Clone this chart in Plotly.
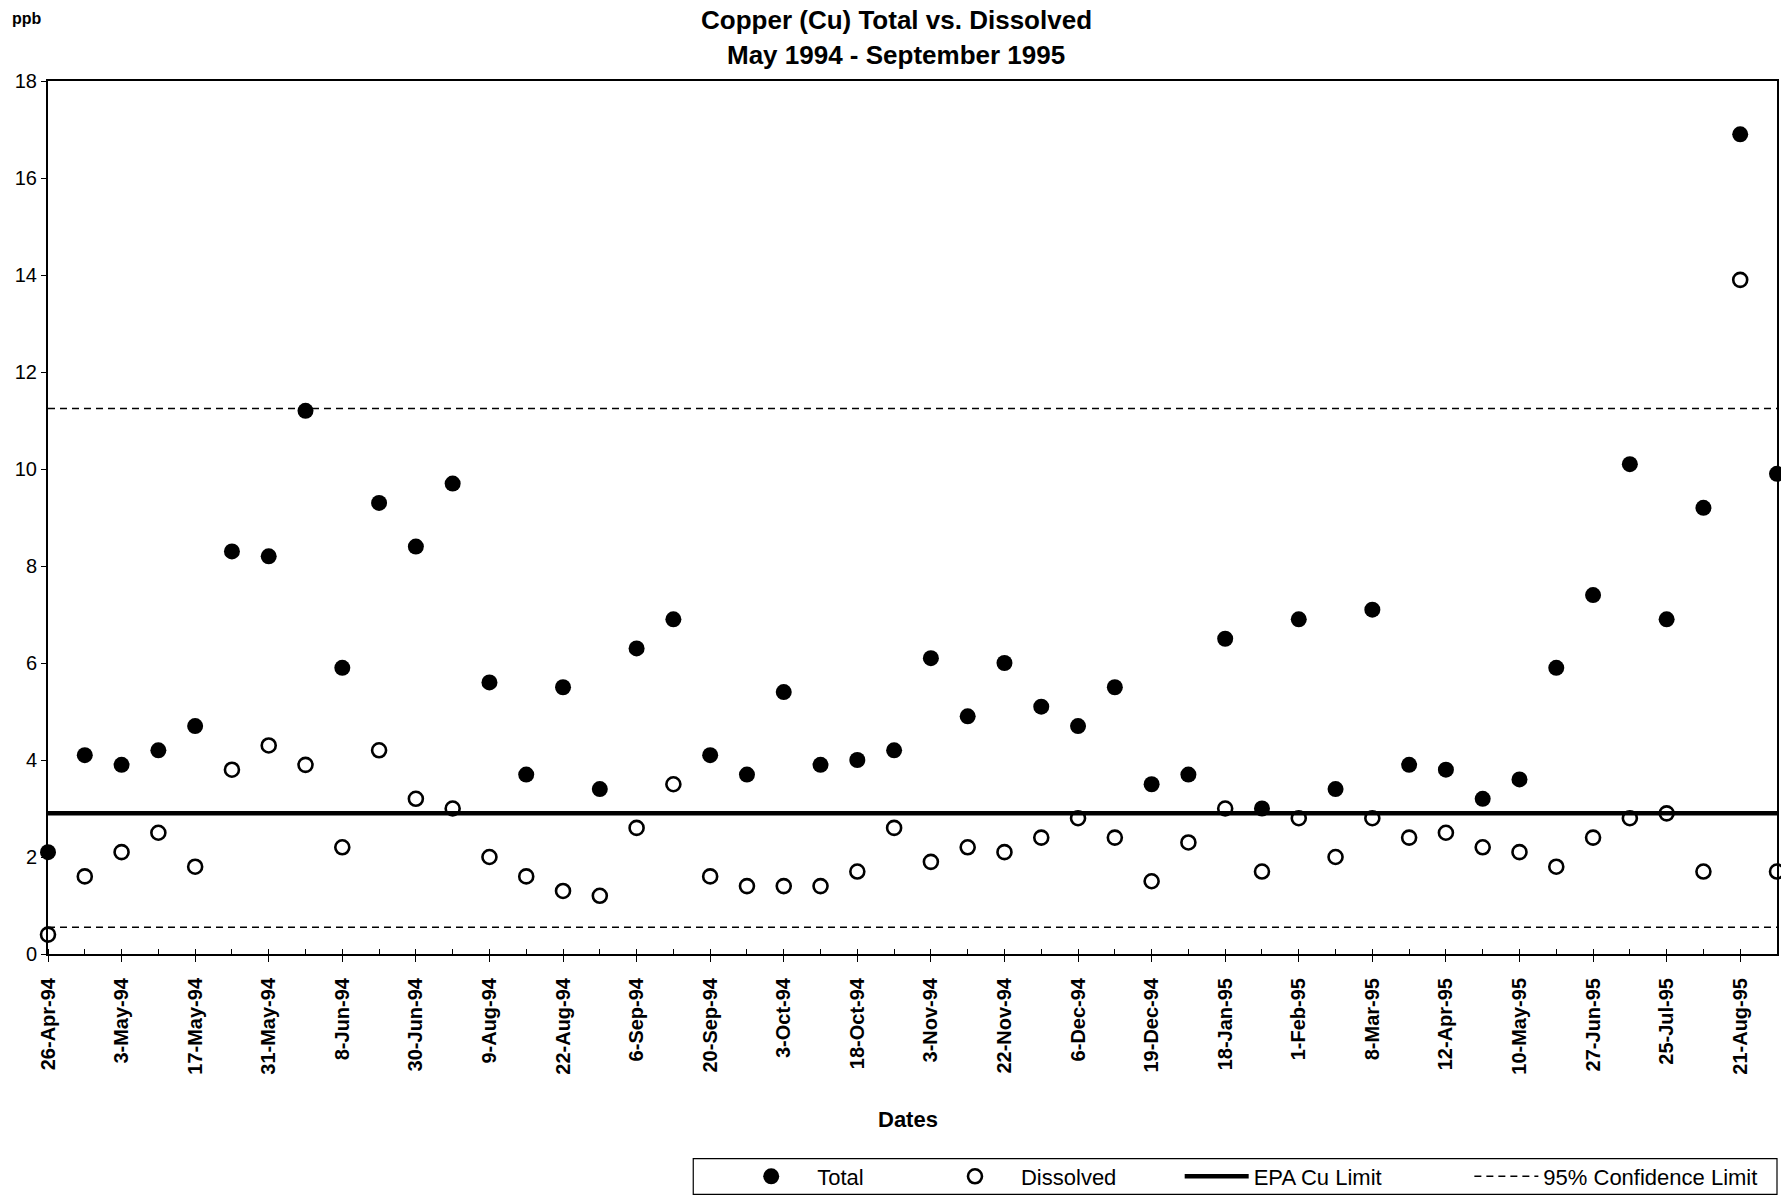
import plotly.graph_objects as go

# ---- data ----
date_labels = ["26-Apr-94", "3-May-94", "17-May-94", "31-May-94", "8-Jun-94", "30-Jun-94",
               "9-Aug-94", "22-Aug-94", "6-Sep-94", "20-Sep-94", "3-Oct-94", "18-Oct-94",
               "3-Nov-94", "22-Nov-94", "6-Dec-94", "19-Dec-94", "18-Jan-95", "1-Feb-95",
               "8-Mar-95", "12-Apr-95", "10-May-95", "27-Jun-95", "25-Jul-95", "21-Aug-95"]

total = [2.1, 4.1, 3.9, 4.2, 4.7, 8.3, 8.2, 11.2, 5.9, 9.3, 8.4, 9.7, 5.6, 3.7, 5.5, 3.4,
         6.3, 6.9, 4.1, 3.7, 5.4, 3.9, 4.0, 4.2, 6.1, 4.9, 6.0, 5.1, 4.7, 5.5, 3.5, 3.7,
         6.5, 3.0, 6.9, 3.4, 7.1, 3.9, 3.8, 3.2, 3.6, 5.9, 7.4, 10.1, 6.9, 9.2, 16.9, 9.9]

dissolved = [0.4, 1.6, 2.1, 2.5, 1.8, 3.8, 4.3, 3.9, 2.2, 4.2, 3.2, 3.0, 2.0, 1.6, 1.3, 1.2,
             2.6, 3.5, 1.6, 1.4, 1.4, 1.4, 1.7, 2.6, 1.9, 2.2, 2.1, 2.4, 2.8, 2.4, 1.5, 2.3,
             3.0, 1.7, 2.8, 2.0, 2.8, 2.4, 2.5, 2.2, 2.1, 1.8, 2.4, 2.8, 2.9, 1.7, 13.9, 1.7]

epa_limit = 2.9
ci_upper = 11.25
ci_lower = 0.55

# ---- derived ----
n = len(total)
idx = list(range(n))
ticktext = [date_labels[i // 2] if i % 2 == 0 else "" for i in idx]
ends = [0, n - 1]

FONT = "Liberation Sans, Arial, sans-serif"
DASH = "7px,5px"

fig = go.Figure()

fig.add_trace(go.Scatter(
    x=idx, y=total, mode="markers", name="Total", legend="legend",
    marker=dict(symbol="circle", size=16, color="black", line=dict(width=0)),
    cliponaxis=False))

fig.add_trace(go.Scatter(
    x=idx, y=dissolved, mode="markers", name="Dissolved", legend="legend2",
    marker=dict(symbol="circle-open", size=14, color="black", line=dict(width=2.6, color="black")),
    cliponaxis=False))

fig.add_trace(go.Scatter(
    x=ends, y=[epa_limit] * 2, mode="lines", name="EPA Cu Limit", legend="legend3",
    line=dict(color="black", width=4.5)))

fig.add_trace(go.Scatter(
    x=ends, y=[ci_upper] * 2, mode="lines", name="95% Confidence Limit", legend="legend4",
    line=dict(color="black", width=1.5, dash=DASH)))

fig.add_trace(go.Scatter(
    x=ends, y=[ci_lower] * 2, mode="lines", name="95% Confidence Limit", showlegend=False,
    line=dict(color="black", width=1.5, dash=DASH)))

# geometry helpers (pixel -> paper)
L, R, T, B = 48, 1779, 81, 956
W, H = R - L, B - T
def px(x):
    return (x - L) / W
def py(y):
    return (B - y) / H

leg_common = dict(orientation="h", yanchor="middle", y=py(1179), xanchor="left",
                  bgcolor="rgba(0,0,0,0)", borderwidth=0,
                  font=dict(family=FONT, size=22, color="black"))

fig.update_layout(
    width=1781, height=1199,
    margin=dict(l=L, r=1781 - R, t=T, b=1199 - B, pad=0),
    paper_bgcolor="white", plot_bgcolor="white",
    font=dict(family=FONT, color="black"),
    showlegend=True,
    legend=dict(leg_common, x=px(726), itemwidth=82),
    legend2=dict(leg_common, x=px(930), itemwidth=82),
    legend3=dict(leg_common, x=px(1181), itemwidth=64),
    legend4=dict(leg_common, x=px(1471), itemwidth=64),
    xaxis=dict(
        range=[0, n - 1], showgrid=False, zeroline=False,
        showline=True, linecolor="black", linewidth=2, mirror=True,
        tickmode="array", tickvals=idx, ticktext=ticktext,
        ticks="outside", ticklen=6, tickwidth=1, tickcolor="black",
        minor=dict(ticks="inside", tickvals=idx, ticklen=5, tickwidth=1, tickcolor="black"),
        tickangle=-90, ticklabelstandoff=8,
        tickfont=dict(family=FONT, size=20, color="black", weight="bold"),
    ),
    yaxis=dict(
        range=[0, 18], showgrid=False, zeroline=False,
        showline=True, linecolor="black", linewidth=2, mirror=True,
        tickmode="array", tickvals=[0, 2, 4, 6, 8, 10, 12, 14, 16, 18],
        ticks="outside", ticklen=5, tickwidth=1, tickcolor="black",
        tickfont=dict(family=FONT, size=20, color="black"),
    ),
    shapes=[dict(type="rect", xref="paper", yref="paper",
                 x0=px(694), x1=px(1779), y0=py(1197), y1=py(1161),
                 line=dict(color="black", width=1.2), fillcolor="rgba(0,0,0,0)")],
    annotations=[
        dict(text="<b>Copper (Cu) Total vs. Dissolved</b>", xref="paper", yref="paper",
             x=px(897), y=py(20), xanchor="center", yanchor="middle", showarrow=False,
             font=dict(family=FONT, size=26, color="black")),
        dict(text="<b>May 1994 - September 1995</b>", xref="paper", yref="paper",
             x=px(897), y=py(55), xanchor="center", yanchor="middle", showarrow=False,
             font=dict(family=FONT, size=26, color="black")),
        dict(text="<b>ppb</b>", xref="paper", yref="paper",
             x=px(10), y=py(18), xanchor="left", yanchor="middle", showarrow=False,
             font=dict(family=FONT, size=16, color="black")),
        dict(text="<b>Dates</b>", xref="paper", yref="paper",
             x=px(909), y=py(1122), xanchor="center", yanchor="middle", showarrow=False,
             font=dict(family=FONT, size=22, color="black")),
    ],
)

fig.write_html("out.html", config={"displayModeBar": False},
               post_script="document.body.style.margin='0';document.body.style.overflow='hidden';")
